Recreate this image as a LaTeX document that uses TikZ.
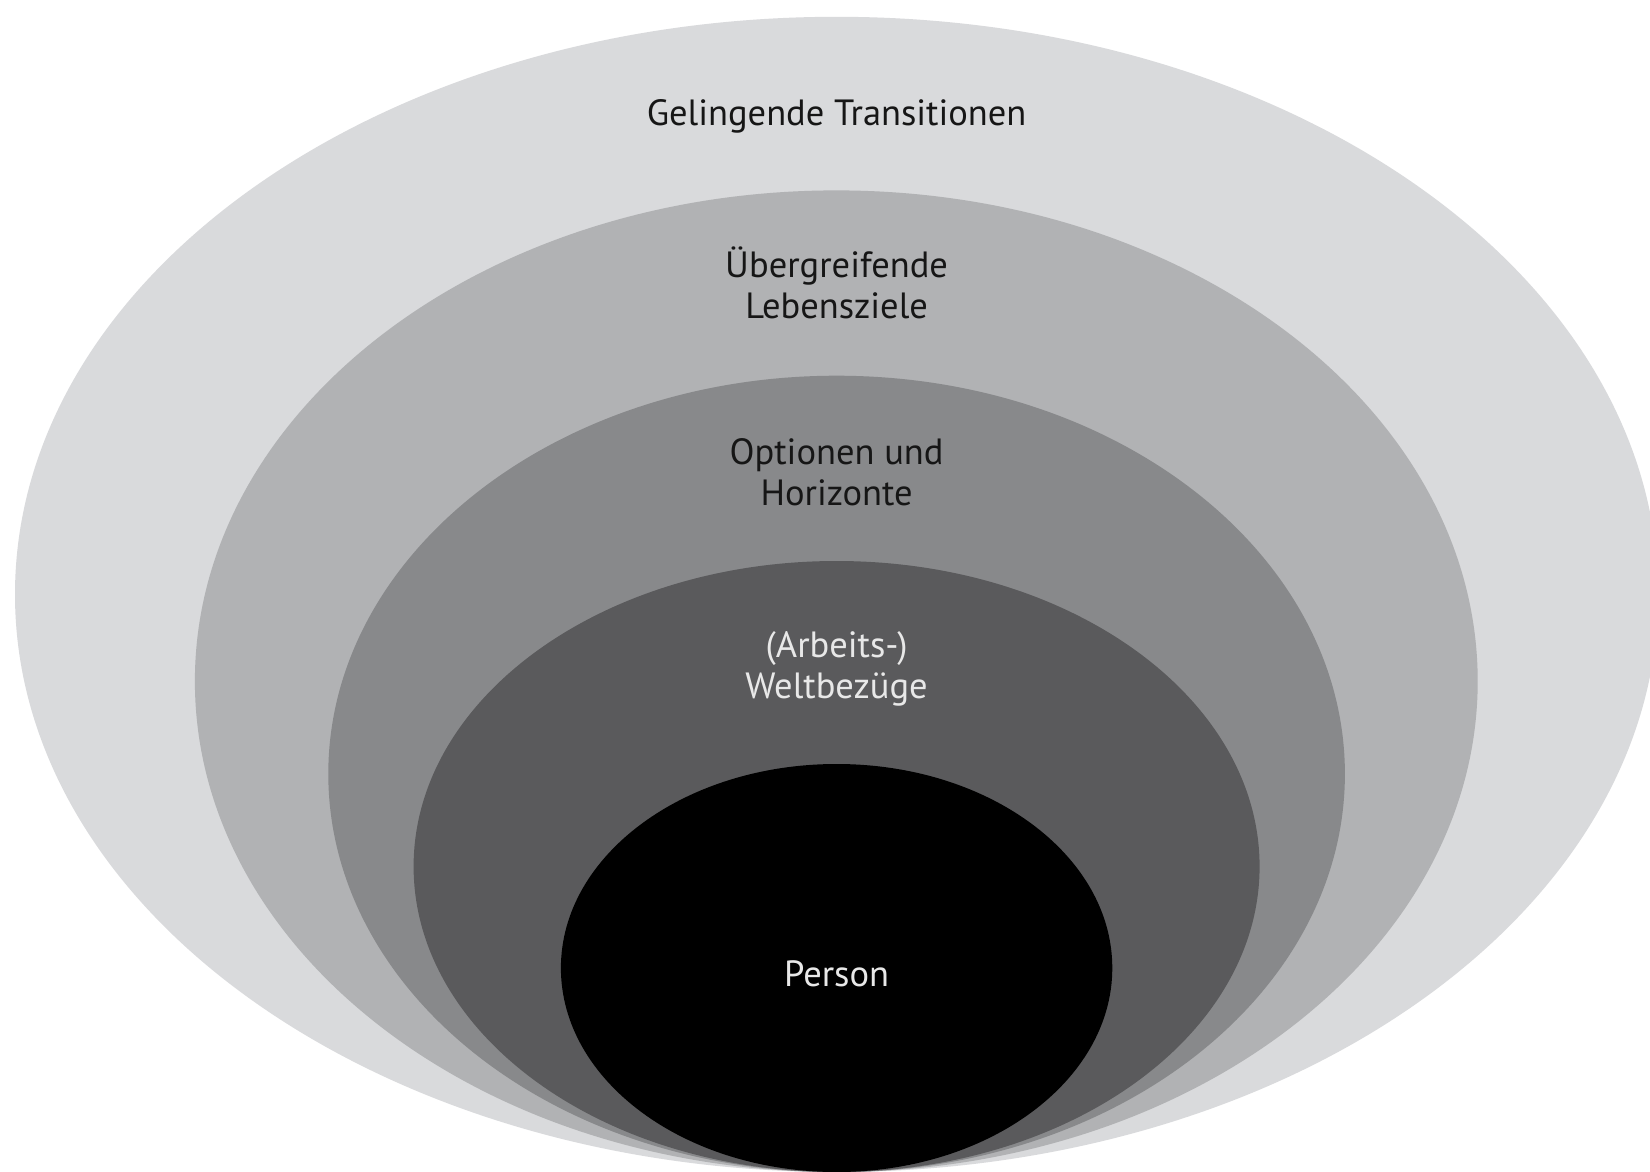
\documentclass[tikz,border=0pt]{standalone}
\usepackage{fontspec}
\setmainfont{PT Sans}
\definecolor{ringA}{HTML}{D9DADC}
\definecolor{ringB}{HTML}{B1B2B4}
\definecolor{ringC}{HTML}{88898B}
\definecolor{ringD}{HTML}{5A5A5C}
\definecolor{darktext}{HTML}{161616}
\definecolor{lighttext}{HTML}{E8E8E8}
\tikzset{
  lbl/.style={anchor=base, inner sep=0pt, align=center,
    font=\fontsize{36.5}{41}\selectfont},
  lbldark/.style={lbl, text=darktext},
  lbllight/.style={lbl, text=lighttext},
}
\begin{document}
\begin{tikzpicture}[x=1pt,y=-1pt]
\useasboundingbox (0,0) rectangle (1650,1172);
\clip (0,0) rectangle (1650,1172);
\fill[white] (0,0) rectangle (1650,1172);
\fill[ringA] (836.6,594.4) ellipse [x radius=821.6, y radius=577.6];
\fill[ringB] (836.3,681.2) ellipse [x radius=641.4, y radius=490.8];
\fill[ringC] (836.6,773.9) ellipse [x radius=508.3, y radius=398.2];
\fill[ringD] (836.6,866.5) ellipse [x radius=423.0, y radius=305.5];
\fill[black] (836.6,968.0) ellipse [x radius=275.7, y radius=204.0];
\node[lbldark] (l1) at (836.6,125) {Gelingende Transitionen};
\node[lbldark] (l2) at (836.6,318) {Übergreifende\\Lebensziele};
\node[lbldark] (l3) at (836.6,505) {Optionen und\\Horizonte};
\node[lbllight] (l4) at (836.6,698) {(Arbeits-)\\Weltbezüge};
\node[lbllight] (l5) at (836.6,986) {Person};
\end{tikzpicture}
\end{document}
